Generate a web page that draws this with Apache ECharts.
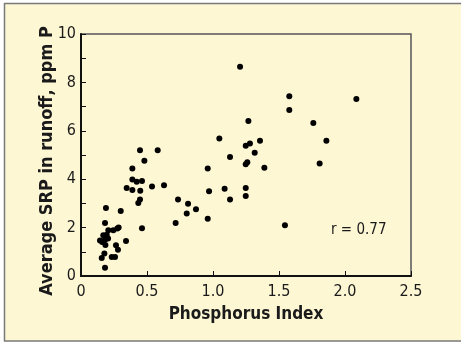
<!DOCTYPE html>
<html>
<head>
<meta charset="utf-8">
<script src="https://cdn.jsdelivr.net/npm/echarts@6/dist/echarts.min.js"></script>
<style>
html,body{margin:0;padding:0;background:#ffffff;}
#c{width:461px;height:343px;}
</style>
</head>
<body>
<div id="c"></div>
<script>
// Phosphorus Index values (x)
var phosphorusIndex = [
  0.189, 0.301, 0.182, 0.207, 0.245, 0.275, 0.285, 0.169, 0.195, 0.144,
  0.160, 0.182, 0.205, 0.341, 0.265, 0.280, 0.185, 0.177, 0.157, 0.233,
  0.258, 0.182,
  0.447, 0.581, 0.480, 0.389, 0.389, 0.422, 0.462, 0.346, 0.389, 0.449,
  0.538, 0.629, 0.447, 0.434, 0.462,
  0.735, 0.717, 0.811, 0.801, 0.871, 0.960, 0.960, 0.970, 1.088, 1.129,
  1.048, 1.129,
  1.248, 1.280, 1.316, 1.356, 1.248, 1.260, 1.389, 1.248, 1.248, 1.268,
  1.205, 1.578, 1.578, 2.086, 1.760, 1.859, 1.808, 1.545
];
// Average SRP in runoff, ppm P (y)
var srp = [
  2.81, 2.69, 2.19, 1.89, 1.89, 1.96, 2.00, 1.68, 1.70, 1.47,
  1.40, 1.50, 1.55, 1.45, 1.27, 1.08, 1.28, 0.93, 0.74, 0.79,
  0.79, 0.34,
  5.20, 5.20, 4.76, 4.44, 3.99, 3.89, 3.93, 3.64, 3.55, 3.52,
  3.70, 3.75, 3.16, 3.02, 1.97,
  3.16, 2.19, 2.99, 2.58, 2.76, 2.37, 4.44, 3.50, 3.61, 3.16,
  5.68, 4.92,
  5.38, 5.48, 5.09, 5.59, 4.62, 4.70, 4.47, 3.64, 3.31, 6.40,
  8.65, 7.43, 6.86, 7.31, 6.32, 5.59, 4.65, 2.10
];
var xTickLabels = ['0', '0.5', '1.0', '1.5', '2.0', '2.5'];
var yTickLabels = ['0', '2', '4', '6', '8', '10'];
var xTitle = 'Phosphorus Index';
var yTitle = 'Average SRP in runoff, ppm P';
var annotation = 'r = 0.77';

var points = phosphorusIndex.map(function (x, i) { return [x, srp[i]]; });
var cond = "'Liberation Sans Narrow', 'DejaVu Sans Condensed', 'Arial Narrow', sans-serif";
var cream = '#fdf7d4';

var chart = echarts.init(document.getElementById('c'), null, {renderer: 'canvas'});
chart.setOption({
  animation: false,
  backgroundColor: '#ffffff',
  graphic: [
    {type: 'rect', z: -10, shape: {x: 4.5, y: 3.5, width: 480, height: 337.5},
     style: {fill: cream, stroke: '#7a7a7a', lineWidth: 1.5}},
    {type: 'text', left: 331, top: 223, z: 10,
     style: {text: annotation, font: '15px ' + cond, fill: '#1a1a1a'}},
    {type: 'text', x: 47, y: 161, rotation: Math.PI / 2, z: 10,
     style: {text: yTitle, font: 'bold 18px ' + cond, fill: '#1a1a1a',
             align: 'center', verticalAlign: 'middle'}}
  ],
  grid: {left: 81, right: 50, top: 34, bottom: 67, show: true,
         borderColor: '#555555', borderWidth: 1.5, backgroundColor: 'transparent'},
  xAxis: {
    type: 'value', min: 0, max: 2.5, interval: 0.5,
    name: xTitle, nameLocation: 'middle', nameGap: 30,
    nameTextStyle: {fontFamily: cond, fontWeight: 'bold', fontSize: 17, color: '#1a1a1a'},
    axisLine: {show: true, lineStyle: {color: '#111', width: 2}},
    axisTick: {show: true, inside: true, length: 5, lineStyle: {color: '#111', width: 1}},
    axisLabel: {fontFamily: cond, fontSize: 16, color: '#1a1a1a', margin: 8,
      formatter: function (v) { return xTickLabels[Math.round(v / 0.5)] || ''; }},
    splitLine: {show: false}
  },
  yAxis: {
    type: 'value', min: 0, max: 10, interval: 1,
    axisLine: {show: true, lineStyle: {color: '#111', width: 2}},
    axisTick: {show: true, inside: true, length: 5, lineStyle: {color: '#111', width: 1}},
    axisLabel: {fontFamily: cond, fontSize: 16, color: '#1a1a1a', margin: 5,
      formatter: function (v) { return (v % 2 === 0) ? yTickLabels[v / 2] : ''; }},
    splitLine: {show: false}
  },
  series: [{
    type: 'scatter', data: points, symbol: 'circle', symbolSize: 6,
    itemStyle: {color: '#000000', opacity: 1}
  }]
});
</script>
</body>
</html>
